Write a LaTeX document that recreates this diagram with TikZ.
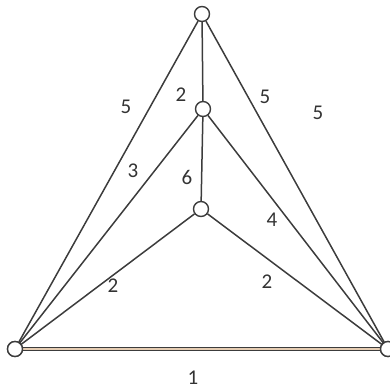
\documentclass[tikz,border=0pt]{standalone}
\usepackage{fontspec}
\setmainfont{Carlito}
\usetikzlibrary{positioning}
\definecolor{edgegray}{HTML}{3C3C3C}

\begin{document}
\begin{tikzpicture}[x=1pt,y=-1pt,
    vertex/.style={circle,draw=edgegray,fill=white,line width=1.4pt,minimum size=15pt,inner sep=0pt},
    edge/.style={edgegray,line width=1.5pt},
    wlabel/.style={font=\fontsize{21}{24}\selectfont,text=black!80,inner sep=1pt}]
  \useasboundingbox (0,0) rectangle (389,391);

  % vertices
  \node[vertex] (top) at (202,14) {};
  \node[vertex] (mid) at (203,109) {};
  \node[vertex] (low) at (201,209) {};
  \node[vertex] (left) at (15,349) {};
  \node[vertex] (right) at (388,349) {};

  % edges
  \draw[edge] (top) -- (left);
  \draw[edge] (top) -- (right);
  \draw[edge] (top) -- (mid);
  \draw[edge] (mid) -- (low);
  \draw[edge] (mid) -- (left.center);
  \draw[edge] (mid) -- (right.center);
  \draw[edge] (low) -- (left.center);
  \draw[edge] (low) -- (right.center);
  \draw[edgegray,double=brown!40,double distance=1.6pt,line width=1.1pt] (left.east) -- (right.west);
  \node[vertex] at (left) {};
  \node[vertex] at (right) {};

  % weights
  \node[wlabel] (w1) at (126,107) {5};
  \node[wlabel] (w2) at (181,95) {2};
  \node[wlabel] (w3) at (265,97) {5};
  \node[wlabel] (w4) at (318,113) {5};
  \node[wlabel] (w5) at (133,171) {3};
  \node[wlabel] (w6) at (187,177) {6};
  \node[wlabel] (w7) at (272,220) {4};
  \node[wlabel] (w8) at (113,286) {2};
  \node[wlabel] (w9) at (267,282) {2};
  \node[wlabel] (w10) at (193,378) {1};
\end{tikzpicture}
\end{document}
